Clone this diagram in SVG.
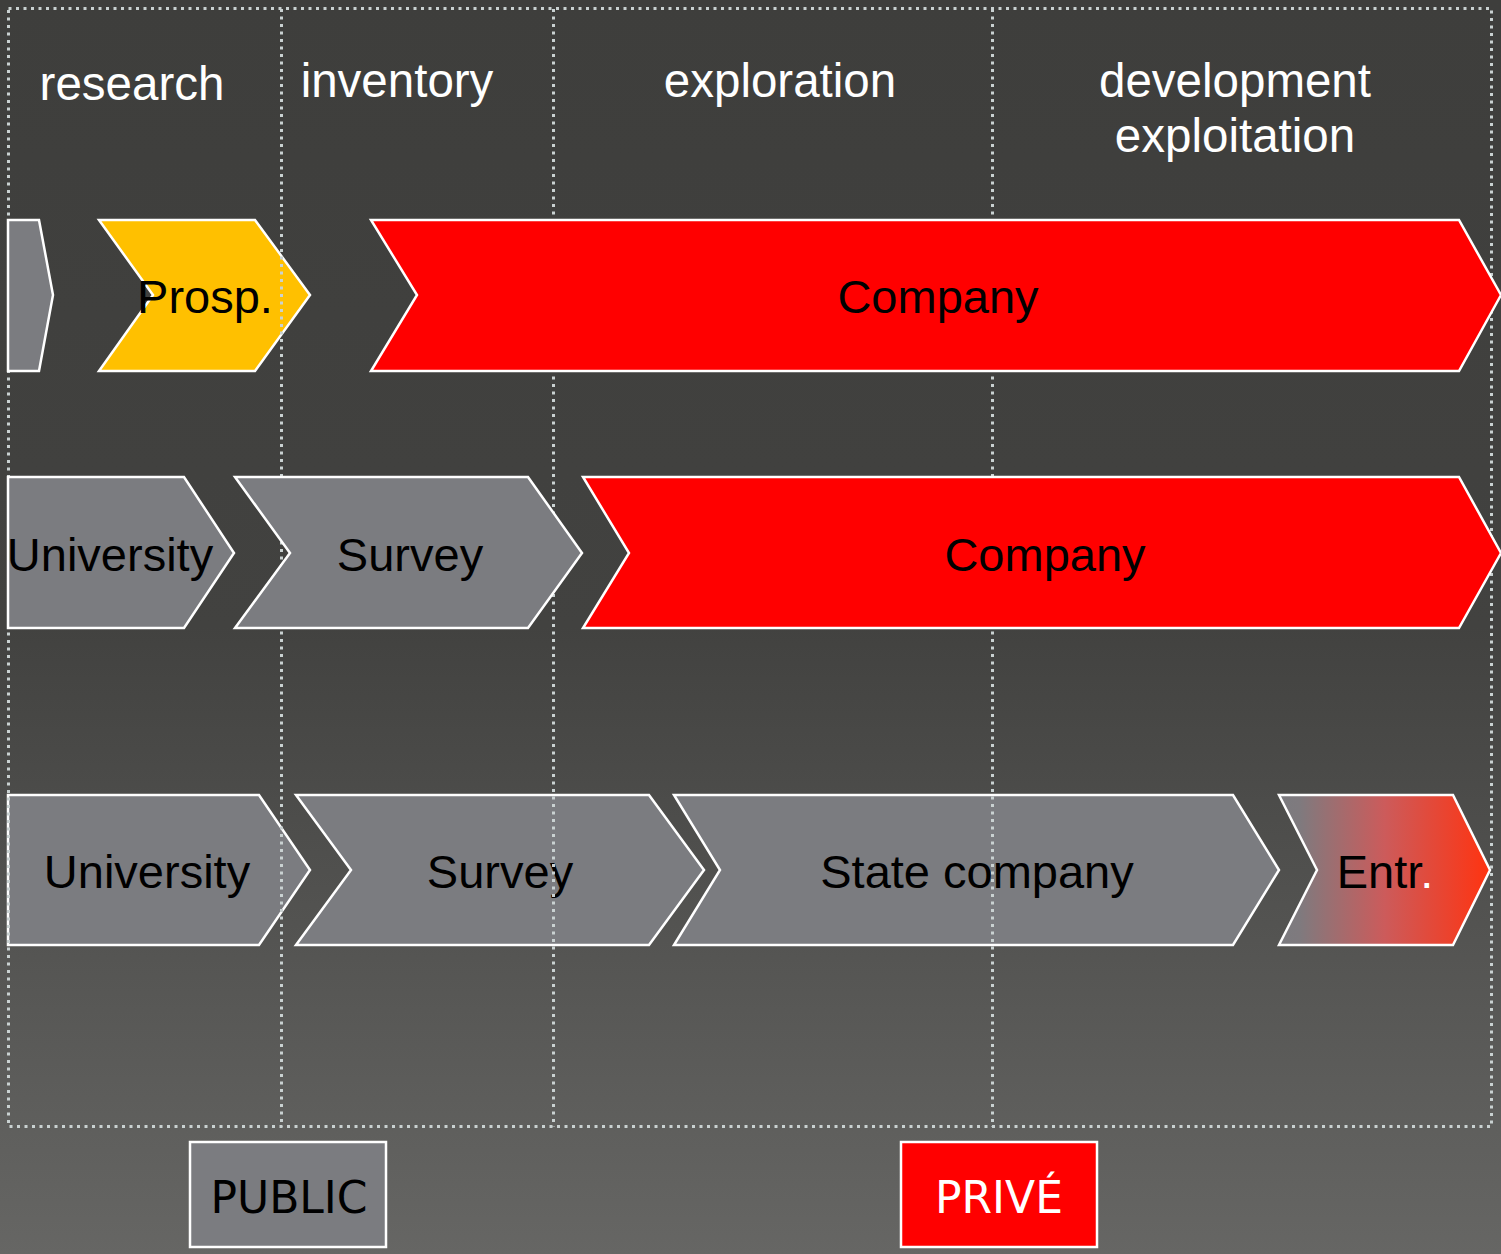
<svg xmlns="http://www.w3.org/2000/svg" width="1501" height="1254" viewBox="0 0 1501 1254">
<defs>
<linearGradient id="bg" x1="0" y1="0" x2="0" y2="1">
<stop offset="0" stop-color="#3e3e3c"/>
<stop offset="0.5" stop-color="#424240"/>
<stop offset="1" stop-color="#666664"/>
</linearGradient>
<linearGradient id="entr" x1="1279" y1="0" x2="1490" y2="0" gradientUnits="userSpaceOnUse">
<stop offset="0" stop-color="#7b7b7f"/>
<stop offset="0.1" stop-color="#7f7a7e"/>
<stop offset="0.5" stop-color="#cc5b5b"/>
<stop offset="1" stop-color="#ff3310"/>
</linearGradient>
</defs>
<style>
.sh{stroke:#ffffff;stroke-width:2.5;stroke-linejoin:miter}
.gray{fill:#7b7c80}
.red{fill:#ff0000}
.yel{fill:#ffc000}
.dot{fill:none;stroke:#c9d1d1;stroke-width:3;stroke-dasharray:3 4.5}
.hd{font-family:"Liberation Sans",Arial,sans-serif;font-size:47.5px;fill:#ffffff;text-anchor:middle}
.lb{font-family:"Liberation Sans",Arial,sans-serif;font-size:47px;fill:#000000;text-anchor:middle}
.lg{font-family:"DejaVu Sans",Tahoma,sans-serif;font-size:44px;text-anchor:middle}
</style>
<rect x="0" y="0" width="1501" height="1254" fill="url(#bg)"/>

<g id="headers">
<text class="hd" x="132" y="100">research</text>
<text class="hd" x="397" y="97">inventory</text>
<text class="hd" x="780" y="97">exploration</text>
<text class="hd" x="1235" y="97">development</text>
<text class="hd" x="1235" y="152">exploitation</text>
</g>

<g id="row3-university">
<polygon class="sh gray" points="8,795 259,795 310,870 259,945 8,945"/>
<text class="lb" x="147" y="888">University</text>
</g>
<g id="row3-survey">
<polygon class="sh gray" points="296,795 649,795 704,870 649,945 296,945 351,870"/>
<text class="lb" x="500" y="888">Survey</text>
</g>
<g id="row3-state-company">
<polygon class="sh gray" points="674,795 1233,795 1279,870 1233,945 674,945 720,870"/>
<text class="lb" x="977" y="888">State company</text>
</g>
<g id="row3-entr">
<polygon class="sh" fill="url(#entr)" points="1279,795 1453,795 1490,870 1453,945 1279,945 1317,870"/>
<text class="lb" x="1385" y="888">Entr<tspan fill="#ffffff">.</tspan></text>
</g>

<g id="row1-prosp">
<polygon class="sh yel" points="99,220 255,220 310,295 255,371 99,371 153,295"/>
</g>

<g id="grid">
<rect class="dot" x="8.5" y="8.5" width="1483" height="1118"/>
<line class="dot" x1="281.5" y1="9" x2="281.5" y2="1127"/>
<line class="dot" x1="553.5" y1="9" x2="553.5" y2="1127"/>
<line class="dot" x1="992.5" y1="9" x2="992.5" y2="1127"/>
</g>

<g id="row1-prosp-label">
<text class="lb" x="205" y="313">Prosp.</text>
</g>
<g id="row1-stub">
<polygon class="sh gray" points="8,220 39,220 53,295 39,371 8,371"/>
</g>
<g id="row1-company">
<polygon class="sh red" points="371,220 1459,220 1501,295 1459,371 371,371 417,295"/>
<text class="lb" x="938" y="313">Company</text>
</g>

<g id="row2-university">
<polygon class="sh gray" points="8,477 184,477 234,553 184,628 8,628"/>
<text class="lb" x="110" y="571">University</text>
</g>
<g id="row2-survey">
<polygon class="sh gray" points="235,477 528,477 582,553 528,628 235,628 290,553"/>
<text class="lb" x="410" y="571">Survey</text>
</g>
<g id="row2-company">
<polygon class="sh red" points="583,477 1459,477 1501,553 1459,628 583,628 629,553"/>
<text class="lb" x="1045" y="571">Company</text>
</g>

<g id="legend-public">
<rect class="sh gray" x="190" y="1142" width="196" height="105"/>
<text class="lg" x="289" y="1213" fill="#000000">PUBLIC</text>
</g>
<g id="legend-prive">
<rect class="sh red" x="901" y="1142" width="196" height="105"/>
<text class="lg" x="999" y="1213" fill="#ffffff">PRIVÉ</text>
</g>

<g id="connectors"/>
</svg>
